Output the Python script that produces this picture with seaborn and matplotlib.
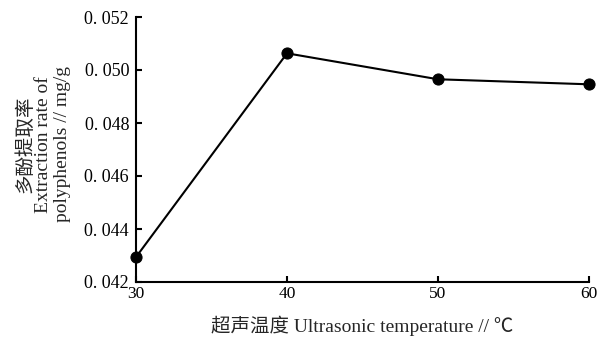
import matplotlib
matplotlib.use("Agg")
import matplotlib.pyplot as plt
import seaborn as sns
import pandas as pd
from matplotlib.ticker import FuncFormatter, FixedLocator

temperature = [30, 40, 50, 60]
extraction_rate = [0.04294, 0.05063, 0.04965, 0.04946]
x_ticks = [30, 40, 50, 60]
y_ticks = [0.042, 0.044, 0.046, 0.048, 0.050, 0.052]

sns.set_style("ticks")
plt.rcParams['font.family'] = ['Liberation Serif', 'Noto Sans CJK SC', 'DejaVu Sans']
plt.rcParams['axes.unicode_minus'] = False

df = pd.DataFrame({"temp": temperature, "rate": extraction_rate})

fig = plt.figure(figsize=(5.98, 3.42), dpi=100)
ax = fig.add_axes([136/598, 1-282/342, (589-136)/598, (282-17)/342])

sns.lineplot(data=df, x="temp", y="rate", ax=ax, color="black", linewidth=1.5,
             marker="o", markersize=8, markeredgecolor="black",
             markerfacecolor="black", clip_on=False)

ax.set_xlim(30, 60)
ax.set_ylim(0.042, 0.052)
ax.xaxis.set_major_locator(FixedLocator(x_ticks))
ax.yaxis.set_major_locator(FixedLocator(y_ticks))
ax.yaxis.set_major_formatter(FuncFormatter(lambda v, p: f"{v:.3f}".replace(".", ". ")))

for side in ["top", "right"]:
    ax.spines[side].set_visible(False)
for side in ["left", "bottom"]:
    ax.spines[side].set_linewidth(1.5)
    ax.spines[side].set_color("black")

ax.tick_params(axis="both", direction="in", length=4, width=1.5, colors="black",
               labelsize=13)
ax.tick_params(axis="x", pad=3, labelsize=12.5)
ax.tick_params(axis="y", pad=5)

ax.set_xlabel("超声温度 Ultrasonic temperature // ℃", fontsize=14, labelpad=10)
ax.set_ylabel("多酚提取率\nExtraction rate of\npolyphenols // mg/g", fontsize=14,
              linespacing=1.1, multialignment="center", va="center", ha="center")
ax.yaxis.set_label_coords((43-136)/453, 0.52)

fig.savefig("out.png", dpi=100, facecolor="white")
